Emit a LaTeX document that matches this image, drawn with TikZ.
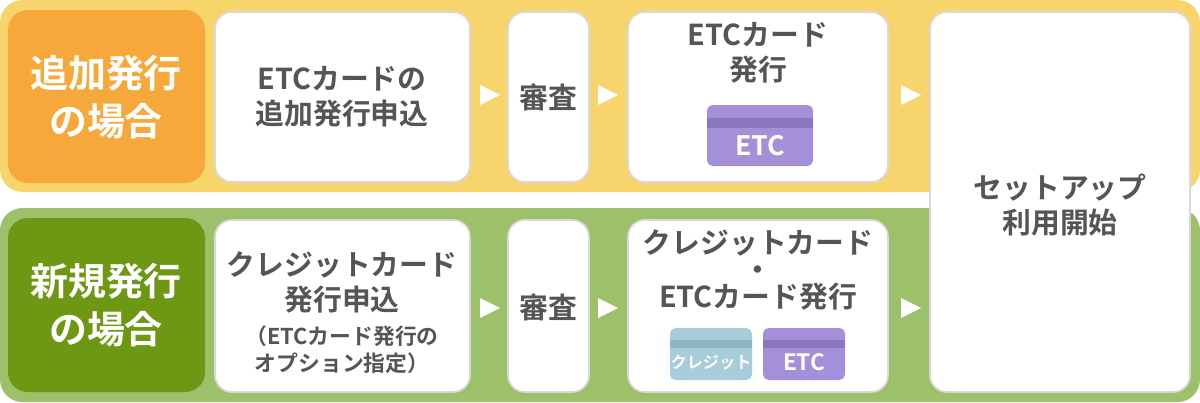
\documentclass[tikz,border=0pt]{standalone}
\usepackage{fontspec}
\setmainfont{Noto Sans CJK JP}[BoldFont={* Bold}]
\newfontfamily\jp{Noto Sans CJK JP Bold}
\definecolor{yel}{HTML}{F8D56C}
\definecolor{grn}{HTML}{9DC06A}
\definecolor{org}{HTML}{F7A83A}
\definecolor{dgr}{HTML}{6E9813}
\definecolor{txt}{HTML}{555555}
\definecolor{bord}{HTML}{D9D9D9}
\definecolor{pur}{HTML}{A390D8}
\definecolor{purd}{HTML}{8A77C0}
\definecolor{lbl}{HTML}{A8CDDA}
\definecolor{lbld}{HTML}{8FB6C4}
\begin{document}
\begin{tikzpicture}[x=0.025cm,y=-0.025cm,
  wbox/.style={draw=bord,line width=1.2pt,fill=white,rounded corners=12pt},
  lab/.style={text=white,font=\jp\fontsize{27}{34}\selectfont,align=center},
  tx/.style={text=txt,font=\jp\fontsize{20.5}{25}\selectfont,align=center},
  sm/.style={text=txt,font=\jp\fontsize{15.5}{19}\selectfont,align=center},
  tri/.style={fill=white,draw=none}]
\useasboundingbox (0,0) rectangle (1200,402);
\fill[yel,rounded corners=16pt] (0,0) rectangle (1200,192);
\fill[grn,rounded corners=16pt] (0,208) rectangle (1200,402);
\fill[org,rounded corners=14pt] (8,10) rectangle (205,183);
\fill[dgr,rounded corners=14pt] (8,218) rectangle (205,392);
\node[lab] (l1) at (106,97) {追加発行\\の場合};
\node[lab] (l2) at (106,305) {新規発行\\の場合};
% top row
\draw[wbox] (215,12) rectangle (470,182);
\node[tx] (a1) at (342,97) {ETCカードの\\追加発行申込};
\draw[wbox] (508,12) rectangle (589,182);
\node[tx] (a2) at (548,97) {審査};
\draw[wbox] (628,12) rectangle (888,182);
\node[tx] (a3) at (758,53) {ETCカード\\発行};
\fill[pur,rounded corners=4pt] (707,105) rectangle (813,166);
\fill[purd] (707,118) rectangle (813,128);
\node[text=white,font=\jp\fontsize{19}{22}\selectfont] (c1) at (760,146) {ETC};
% right big box
\draw[wbox] (930,12) rectangle (1190,392);
\node[tx] (z) at (1060,205) {セットアップ\\利用開始};
% bottom row
\draw[wbox] (215,220) rectangle (470,392);
\node[tx] (b1) at (342,282) {クレジットカード\\発行申込};
\node[sm] (b1s) at (342,350) {（ETCカード発行の\\オプション指定）};
\draw[wbox] (508,220) rectangle (589,392);
\node[tx] (b2) at (548,307) {審査};
\draw[wbox] (628,220) rectangle (888,392);
\node[tx,font=\jp\fontsize{20.5}{19}\selectfont] (b3) at (758,270) {クレジットカード\\・\\ETCカード発行};
\fill[lbl,rounded corners=4pt] (670,328) rectangle (752,380);
\fill[lbld] (670,340) rectangle (752,348);
\node[text=white,font=\jp\fontsize{11.5}{12}\selectfont] (c2) at (711,363) {クレジット};
\fill[pur,rounded corners=4pt] (763,328) rectangle (845,380);
\fill[purd] (763,340) rectangle (845,348);
\node[text=white,font=\jp\fontsize{16}{18}\selectfont] (c3) at (804,362) {ETC};
% arrows
\foreach \x/\y in {480/95,598/95,901/95,480/308,598/308,901/308}{
  \fill[white] (\x,\y-10) -- (\x+20,\y) -- (\x,\y+10) -- cycle;}
\end{tikzpicture}
\end{document}
